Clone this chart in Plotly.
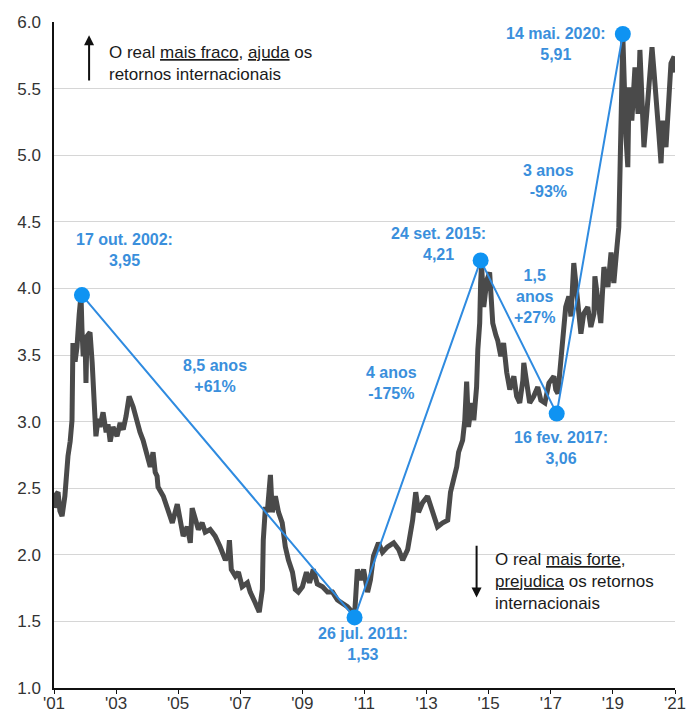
import plotly.graph_objects as go

# USD/BRL exchange rate, positioned in decimal years along the axis
t = [2001.03, 2001.06, 2001.13, 2001.19, 2001.26, 2001.35, 2001.45, 2001.52, 2001.58, 2001.61,
     2001.68, 2001.74, 2001.81, 2001.87, 2001.90, 2001.94, 2002.00, 2002.03, 2002.06, 2002.16,
     2002.23, 2002.29, 2002.35, 2002.42, 2002.48, 2002.58, 2002.68, 2002.74, 2002.81, 2002.90,
     2003.03, 2003.13, 2003.23, 2003.32, 2003.42, 2003.55, 2003.65, 2003.77, 2003.87, 2004.00,
     2004.10, 2004.19, 2004.26, 2004.32, 2004.35, 2004.52, 2004.68, 2004.81, 2004.97, 2005.06,
     2005.16, 2005.29, 2005.39, 2005.45, 2005.55, 2005.65, 2005.77, 2005.87, 2006.03, 2006.19,
     2006.35, 2006.52, 2006.61, 2006.65, 2006.71, 2006.84, 2006.94, 2007.06, 2007.23, 2007.32,
     2007.48, 2007.61, 2007.71, 2007.74, 2007.81, 2007.87, 2007.97, 2008.03, 2008.13, 2008.23,
     2008.35, 2008.45, 2008.55, 2008.68, 2008.77, 2008.87, 2009.00, 2009.13, 2009.23, 2009.35,
     2009.48, 2009.65, 2009.81, 2009.97, 2010.13, 2010.29, 2010.45, 2010.61, 2010.68, 2010.71,
     2010.77, 2010.87, 2010.97, 2011.10, 2011.19, 2011.29, 2011.45, 2011.58, 2011.74, 2011.94,
     2012.10, 2012.23, 2012.39, 2012.55, 2012.65, 2012.74, 2012.87, 2013.03, 2013.19, 2013.35,
     2013.52, 2013.68, 2013.77, 2013.87, 2013.97, 2014.03, 2014.16, 2014.23, 2014.29, 2014.35,
     2014.45, 2014.52, 2014.61, 2014.65, 2014.71, 2014.74, 2014.77, 2014.84, 2014.94, 2015.03,
     2015.13, 2015.23, 2015.29, 2015.39, 2015.48, 2015.58, 2015.68, 2015.81, 2015.90, 2016.00,
     2016.10, 2016.13, 2016.23, 2016.32, 2016.45, 2016.58, 2016.68, 2016.81, 2016.94, 2017.10,
     2017.16, 2017.23, 2017.29, 2017.39, 2017.48, 2017.58, 2017.65, 2017.74, 2017.87, 2017.97,
     2018.06, 2018.19, 2018.29, 2018.39, 2018.42, 2018.55, 2018.61, 2018.71, 2018.84, 2018.94,
     2019.03, 2019.13, 2019.19, 2019.23, 2019.26, 2019.30, 2019.32, 2019.42, 2019.48, 2019.52,
     2019.61, 2019.71, 2019.81, 2019.87, 2019.94, 2020.00, 2020.10, 2020.16, 2020.26, 2020.32,
     2020.42, 2020.48, 2020.55, 2020.61, 2020.71, 2020.81, 2020.87, 2020.97, 2021.00]
usd_brl = [2.35, 2.45, 2.47, 2.33, 2.29, 2.44, 2.74, 2.85, 3.01, 3.59,
           3.45, 3.56, 3.80, 3.95, 3.70, 3.49, 3.62, 3.29, 3.64, 3.67,
           3.44, 3.09, 2.89, 3.02, 2.96, 3.07, 2.92, 2.98, 2.85, 2.96,
           2.89, 2.99, 2.94, 3.04, 3.19, 3.11, 3.01, 2.92, 2.86, 2.74,
           2.66, 2.77, 2.62, 2.59, 2.51, 2.44, 2.32, 2.24, 2.38, 2.26,
           2.14, 2.21, 2.09, 2.35, 2.26, 2.19, 2.24, 2.17, 2.19, 2.14,
           2.06, 1.96, 2.00, 2.11, 1.89, 1.84, 1.87, 1.76, 1.79, 1.72,
           1.64, 1.57, 1.74, 2.11, 2.36, 2.32, 2.60, 2.32, 2.44, 2.32,
           2.24, 2.06, 1.96, 1.87, 1.74, 1.72, 1.76, 1.87, 1.79, 1.89,
           1.78, 1.76, 1.72, 1.72, 1.66, 1.64, 1.61, 1.57, 1.55, 1.66,
           1.89, 1.81, 1.89, 1.72, 1.81, 1.99, 2.09, 2.02, 2.06, 2.09,
           2.04, 1.96, 2.04, 2.26, 2.47, 2.32, 2.39, 2.44, 2.32, 2.21,
           2.24, 2.26, 2.47, 2.56, 2.66, 2.77, 2.86, 3.01, 3.30, 2.96,
           3.14, 3.01, 3.26, 3.54, 3.74, 4.04, 4.18, 3.86, 4.06, 4.12,
           3.74, 3.65, 3.61, 3.49, 3.59, 3.37, 3.24, 3.34, 3.19, 3.14,
           3.31, 3.44, 3.24, 3.14, 3.19, 3.26, 3.16, 3.14, 3.29, 3.34,
           3.24, 3.21, 3.37, 3.61, 3.86, 3.94, 3.79, 4.19, 3.91, 3.66,
           3.81, 3.86, 3.71, 3.81, 4.09, 3.86, 3.74, 4.16, 4.01, 4.27,
           4.04, 4.31, 4.46, 4.89, 5.26, 5.77, 5.89, 5.14, 4.91, 5.51,
           5.26, 5.66, 5.31, 5.79, 5.39, 5.06, 5.34, 5.51, 5.81, 5.64,
           5.39, 5.16, 4.94, 5.26, 5.06, 5.44, 5.69, 5.74, 5.62]

# Turning points joined by the blue trend segments
pt_t = [2001.90, 2010.68, 2014.74, 2017.19, 2019.32]
pt_v = [3.95, 1.53, 4.21, 3.06, 5.91]
pt_date = ["17 out. 2002", "26 jul. 2011", "24 set. 2015", "16 fev. 2017", "14 mai. 2020"]
pt_lab_x = [2003.26, 2010.94, 2013.39, 2017.32, 2017.16]
pt_lab_y = [4.29, 1.33, 4.33, 2.80, 5.835]

# Move between consecutive turning points
seg_text = ["8,5 anos<br>+61%", "4 anos<br>-175%", "1,5<br>anos<br>+27%", "3 anos<br>-93%"]
seg_x = [2006.19, 2011.87, 2016.48, 2016.94]
seg_y = [3.34, 3.29, 3.94, 4.81]

year_ticks = list(range(2001, 2022, 2))
year_labels = ["'" + str(y)[2:] for y in year_ticks]
val_ticks = [1.0, 1.5, 2.0, 2.5, 3.0, 3.5, 4.0, 4.5, 5.0, 5.5, 6.0]

FONT = "Arial, Liberation Sans, sans-serif"
BLUE_TXT = "#3a8fdc"
BLUE_LINE = "#2f8be0"
BLUE_DOT = "#0f93f2"

fig = go.Figure()
fig.add_trace(go.Scatter(x=t, y=usd_brl, mode="lines",
                         line=dict(color="#4a4a4a", width=5), hoverinfo="skip"))
fig.add_trace(go.Scatter(x=pt_t, y=pt_v, mode="lines+markers",
                         line=dict(color=BLUE_LINE, width=2),
                         marker=dict(color=BLUE_DOT, size=16), hoverinfo="skip"))

annotations = []
for d, v, lx, ly in zip(pt_date, pt_v, pt_lab_x, pt_lab_y):
    val_txt = f"{v:.2f}".replace(".", ",")
    annotations.append(dict(x=lx, y=ly, xref="x", yref="y", showarrow=False,
                            text=f"<b>{d}:<br>{val_txt}</b>",
                            font=dict(family=FONT, size=16, color=BLUE_TXT),
                            align="center"))
for txt, sx, sy in zip(seg_text, seg_x, seg_y):
    annotations.append(dict(x=sx, y=sy, xref="x", yref="y", showarrow=False,
                            text=f"<b>{txt}</b>",
                            font=dict(family=FONT, size=16, color=BLUE_TXT),
                            align="center"))

# Explanatory notes with direction arrows
annotations.append(dict(x=2002.71, y=5.69, xref="x", yref="y", showarrow=False,
                        xanchor="left", align="left",
                        text="O real <u>mais fraco</u>, <u>ajuda</u> os<br>retornos internacionais",
                        font=dict(family=FONT, size=17, color="#1a1a1a")))
annotations.append(dict(x=2015.13, y=1.80, xref="x", yref="y", showarrow=False,
                        xanchor="left", align="left",
                        text="O real <u>mais forte</u>,<br><u>prejudica</u> os retornos<br>internacionais",
                        font=dict(family=FONT, size=17, color="#1a1a1a")))
annotations.append(dict(x=2002.13, y=5.90, ax=2002.13, ay=5.55, xref="x", yref="y",
                        axref="x", ayref="y", text="", showarrow=True,
                        arrowhead=2, arrowsize=1, arrowwidth=2, arrowcolor="#111"))
annotations.append(dict(x=2014.61, y=1.68, ax=2014.61, ay=2.08, xref="x", yref="y",
                        axref="x", ayref="y", text="", showarrow=True,
                        arrowhead=2, arrowsize=1, arrowwidth=2, arrowcolor="#111"))

fig.update_layout(
    width=688, height=715,
    margin=dict(l=54, r=13, t=22, b=27),
    paper_bgcolor="white", plot_bgcolor="white",
    showlegend=False,
    annotations=annotations,
    font=dict(family=FONT, size=17, color="#333"),
)
fig.update_xaxes(range=[2001, 2021], tickvals=year_ticks, ticktext=year_labels,
                 showgrid=False, zeroline=False, showline=True, linecolor="#111",
                 linewidth=1.5, ticks="outside", ticklen=4, tickcolor="#111",
                 automargin=False, ticklabelstandoff=-5,
                 tickfont=dict(family=FONT, size=17, color="#333"))
fig.update_yaxes(range=[1, 6], tickvals=val_ticks, ticktext=[f"{v:.1f}" for v in val_ticks],
                 showgrid=True, gridcolor="#d6d6d6", gridwidth=1, zeroline=False,
                 showline=True, linecolor="#111", linewidth=1.5, ticks="",
                 ticklabelstandoff=8, automargin=False,
                 tickfont=dict(family=FONT, size=17, color="#333"))

fig.write_html("out.html")
